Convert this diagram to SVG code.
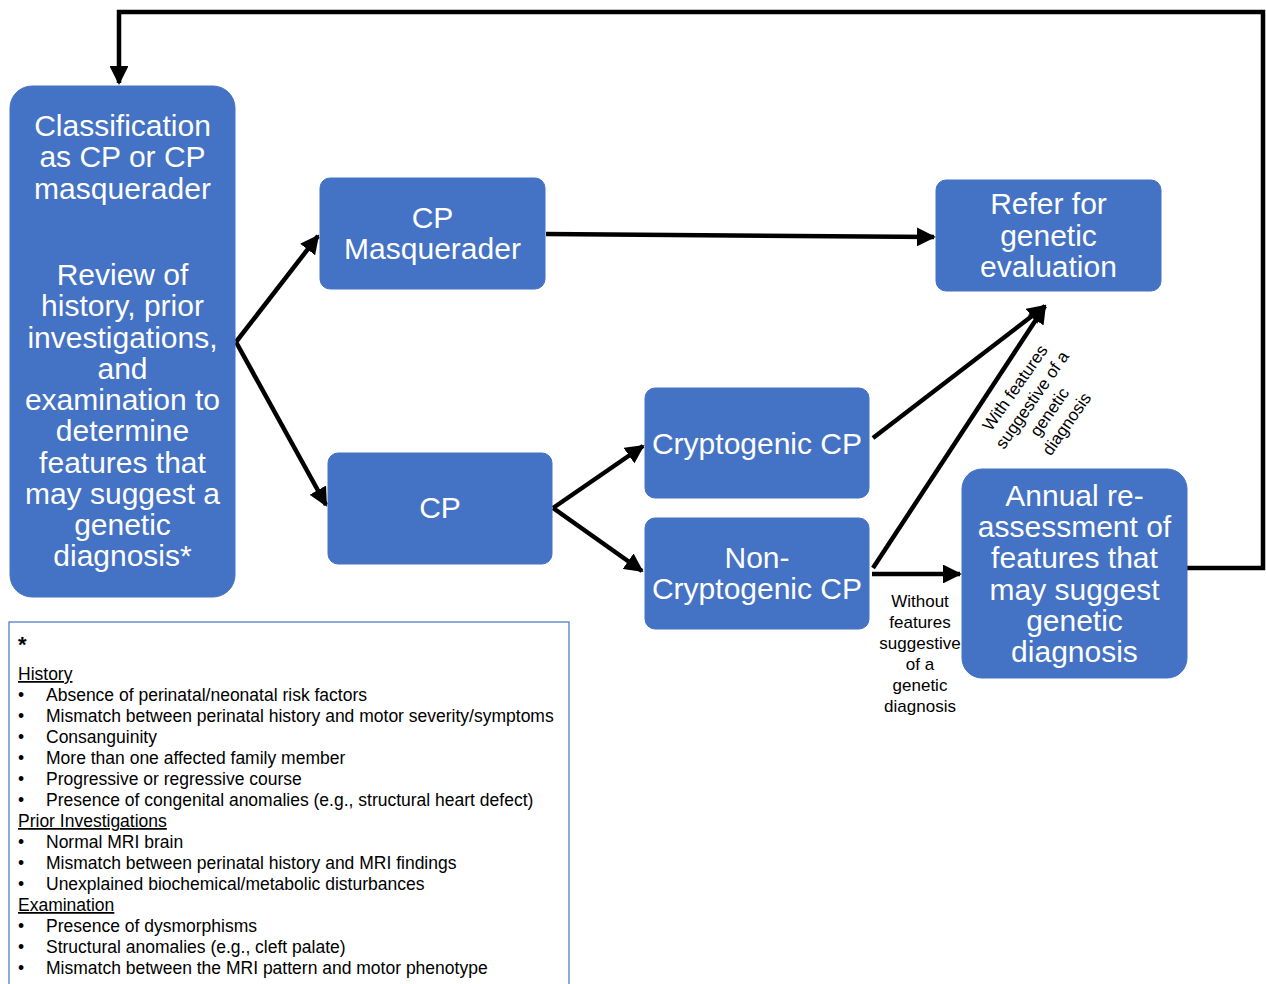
<svg xmlns="http://www.w3.org/2000/svg" width="1266" height="984" viewBox="0 0 1266 984">
<defs>
<style>
.box{fill:#4472C4;stroke:#4472C4;}
.bt{font-family:"Liberation Sans",Arial,sans-serif;font-size:30px;fill:#fff;text-anchor:middle;}
.lbl{font-family:"Liberation Sans",Arial,sans-serif;font-size:17px;fill:#000;text-anchor:middle;}
.fn{font-family:"Liberation Sans",Arial,sans-serif;font-size:17.5px;fill:#000;}
.ln{fill:none;stroke:#000;stroke-width:4.5;}
</style>
<marker id="ah" viewBox="0 0 10 10" refX="9" refY="5" markerWidth="4.2" markerHeight="4.2" orient="auto" markerUnits="strokeWidth">
<path d="M0,0 L10,5 L0,10 z" fill="#000"/>
</marker>
</defs>
<rect width="1266" height="984" fill="#fff"/>

<g id="connectors">
<line class="ln" x1="236" y1="342" x2="318" y2="236" marker-end="url(#ah)"/>
<line class="ln" x1="236" y1="342" x2="326" y2="505" marker-end="url(#ah)"/>
<line class="ln" x1="553" y1="508" x2="643" y2="446" marker-end="url(#ah)"/>
<line class="ln" x1="553" y1="508" x2="642" y2="571" marker-end="url(#ah)"/>
<line class="ln" x1="546" y1="234" x2="934" y2="237" marker-end="url(#ah)"/>
<line class="ln" x1="873" y1="438" x2="1045" y2="306" marker-end="url(#ah)"/>
<line class="ln" x1="873" y1="568" x2="1045" y2="306" marker-end="url(#ah)"/>
<line class="ln" x1="872" y1="574" x2="960" y2="574" marker-end="url(#ah)"/>
<polyline class="ln" points="1187,568 1263,568 1263,12 119,12 119,83" marker-end="url(#ah)"/>
</g>

<g id="node-classification">
<rect class="box" x="10" y="86" width="225" height="511" rx="22"/>
<text class="bt"><tspan x="122.5" y="136">Classification</tspan><tspan x="122.5" y="167">as CP or CP</tspan><tspan x="122.5" y="199">masquerader</tspan><tspan x="122.5" y="285">Review of</tspan><tspan x="122.5" y="316">history, prior</tspan><tspan x="122.5" y="348">investigations,</tspan><tspan x="122.5" y="379">and</tspan><tspan x="122.5" y="410">examination to</tspan><tspan x="122.5" y="441">determine</tspan><tspan x="122.5" y="473">features that</tspan><tspan x="122.5" y="504">may suggest a</tspan><tspan x="122.5" y="535">genetic</tspan><tspan x="122.5" y="566">diagnosis*</tspan></text>
</g>

<g id="node-masquerader">
<rect class="box" x="320" y="178" width="225" height="111" rx="10"/>
<text class="bt"><tspan x="432.5" y="228">CP</tspan><tspan x="432.5" y="259">Masquerader</tspan></text>
</g>

<g id="node-cp">
<rect class="box" x="328" y="453" width="224" height="111" rx="10"/>
<text class="bt" x="440" y="518">CP</text>
</g>

<g id="node-cryptogenic">
<rect class="box" x="645" y="388" width="224" height="110" rx="10"/>
<text class="bt" x="757" y="454">Cryptogenic CP</text>
</g>

<g id="node-noncryptogenic">
<rect class="box" x="645" y="518" width="224" height="111" rx="10"/>
<text class="bt"><tspan x="757" y="568">Non-</tspan><tspan x="757" y="599">Cryptogenic CP</tspan></text>
</g>

<g id="node-refer">
<rect class="box" x="936" y="180" width="225" height="111" rx="10"/>
<text class="bt"><tspan x="1048.5" y="214">Refer for</tspan><tspan x="1048.5" y="246">genetic</tspan><tspan x="1048.5" y="277">evaluation</tspan></text>
</g>

<g id="node-annual">
<rect class="box" x="962" y="469" width="225" height="209" rx="20"/>
<text class="bt"><tspan x="1074.5" y="506">Annual re-</tspan><tspan x="1074.5" y="537">assessment of</tspan><tspan x="1074.5" y="568">features that</tspan><tspan x="1074.5" y="600">may suggest</tspan><tspan x="1074.5" y="631">genetic</tspan><tspan x="1074.5" y="662">diagnosis</tspan></text>
</g>

<g id="label-without">
<text class="lbl"><tspan x="920" y="607">Without</tspan><tspan x="920" y="628">features</tspan><tspan x="920" y="649">suggestive</tspan><tspan x="920" y="670">of a</tspan><tspan x="920" y="691">genetic</tspan><tspan x="920" y="712">diagnosis</tspan></text>
</g>

<g id="label-with" transform="translate(1041,406) rotate(-55)">
<text class="lbl"><tspan x="0" y="-26">With features</tspan><tspan x="0" y="-5">suggestive of a</tspan><tspan x="0" y="16">genetic</tspan><tspan x="0" y="37">diagnosis</tspan></text>
</g>

<g id="footnote">
<rect x="9" y="622" width="560" height="370" fill="none" stroke="#4472C4" stroke-width="1.2"/>
<text class="fn" x="18" y="652" style="font-size:22px;font-weight:bold">*</text>
<text class="fn">
<tspan x="18" y="680" text-decoration="underline">History</tspan>
<tspan x="18" y="701">•</tspan><tspan x="46" y="701">Absence of perinatal/neonatal risk factors</tspan>
<tspan x="18" y="722">•</tspan><tspan x="46" y="722">Mismatch between perinatal history and motor severity/symptoms</tspan>
<tspan x="18" y="743">•</tspan><tspan x="46" y="743">Consanguinity</tspan>
<tspan x="18" y="764">•</tspan><tspan x="46" y="764">More than one affected family member</tspan>
<tspan x="18" y="785">•</tspan><tspan x="46" y="785">Progressive or regressive course</tspan>
<tspan x="18" y="806">•</tspan><tspan x="46" y="806">Presence of congenital anomalies (e.g., structural heart defect)</tspan>
<tspan x="18" y="827" text-decoration="underline">Prior Investigations</tspan>
<tspan x="18" y="848">•</tspan><tspan x="46" y="848">Normal MRI brain</tspan>
<tspan x="18" y="869">•</tspan><tspan x="46" y="869">Mismatch between perinatal history and MRI findings</tspan>
<tspan x="18" y="890">•</tspan><tspan x="46" y="890">Unexplained biochemical/metabolic disturbances</tspan>
<tspan x="18" y="911" text-decoration="underline">Examination</tspan>
<tspan x="18" y="932">•</tspan><tspan x="46" y="932">Presence of dysmorphisms</tspan>
<tspan x="18" y="953">•</tspan><tspan x="46" y="953">Structural anomalies (e.g., cleft palate)</tspan>
<tspan x="18" y="974">•</tspan><tspan x="46" y="974">Mismatch between the MRI pattern and motor phenotype</tspan>
</text>
</g>
</svg>
